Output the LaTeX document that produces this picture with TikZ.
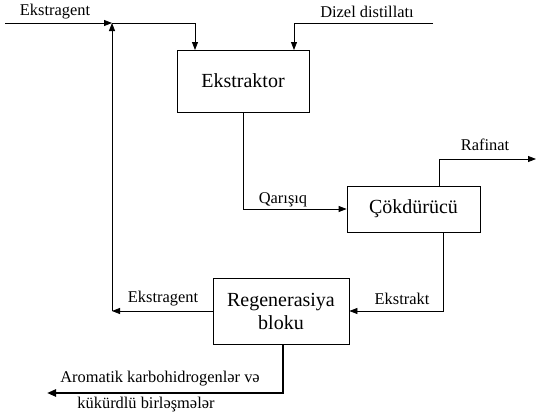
\documentclass[tikz,border=0pt]{standalone}
\usepackage{fontspec}
\setmainfont{Liberation Serif}
\usetikzlibrary{arrows.meta, positioning}

\begin{document}
\begin{tikzpicture}[x=1pt, y=-1pt, box/.style={draw, line width=0.8pt, font=\fontsize{20}{23}\selectfont, align=center, inner sep=0pt}, flow/.style={-{Triangle[length=8pt, width=6pt]}, line width=0.8pt}, lbl/.style={font=\fontsize{16.4}{18}\selectfont, inner sep=1pt}]
\useasboundingbox (0,0) rectangle (536,416);
\node[box, minimum width=132pt, minimum height=62pt] (ekstraktor) at (243,81) {Ekstraktor};
\node[box, minimum width=133pt, minimum height=46pt] (cokduruc) at (413.5,209) {Çökdürücü};
\node[box, minimum width=136pt, minimum height=66pt] (regen) at (281,311) {Regenerasiya\\bloku};
\coordinate (ekstrIn) at (5,23);\coordinate (junct) at (112,23);\coordinate (dizIn) at (433,23);
\coordinate (bend) at (regen.west -| junct);\coordinate (rafOut) at (536,159);\coordinate (aromOut) at (47,393);
\draw[flow] (ekstrIn) -- (junct);
\draw[flow] (junct) -- (195,23) -- (195,50);
\draw[flow] (dizIn) -- (294,23) -- (294,50);
\draw[flow] (ekstraktor.south) |- (cokduruc.west);
\draw[flow] ([xshift=25.5pt]cokduruc.north) |- (rafOut);
\draw[flow] ([xshift=29.5pt]cokduruc.south) |- (regen.east);
\draw[flow] (regen.west) -- (bend);
\draw[flow] (bend) -- (junct);
\draw[-{Triangle[length=9pt, width=7pt]}, line width=2.6pt] ([xshift=2pt]regen.south) |- (aromOut);
\node[lbl] (lblEkstrIn) at (55,12) {Ekstragent};
\node[lbl] (lblDizel) at (367,12) {Dizel distillatı};
\node[lbl] (lblQaris) at (283,200) {Qarışıq};
\node[lbl] (lblRafinat) at (485,145) {Rafinat};
\node[lbl] (lblEkstrakt) at (402,299) {Ekstrakt};
\node[lbl] (lblEkstrBack) at (163,299) {Ekstragent};
\node[lbl] (lblArom1) at (160,379) {Aromatik karbohidrogenlər və};
\node[lbl] (lblArom2) at (146,405) {kükürdlü birləşmələr};
\end{tikzpicture}
\end{document}
